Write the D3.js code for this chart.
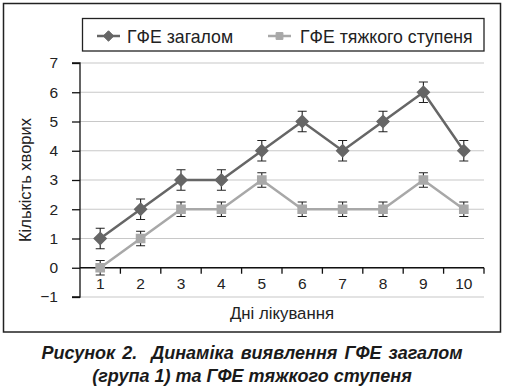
<!DOCTYPE html>
<html><head><meta charset="utf-8">
<script src="https://cdn.jsdelivr.net/npm/d3@7"></script>
<style>body{margin:0;background:#fff}svg{display:block}</style>
</head><body>
<script>
const days = ["1","2","3","4","5","6","7","8","9","10"];
const totalValues = [1,2,3,3,4,5,4,5,6,4];
const totalErrors = [0.35,0.35,0.35,0.35,0.35,0.35,0.35,0.35,0.35,0.35];
const severeValues = [0,1,2,2,3,2,2,2,3,2];
const severeErrors = [0.25,0.25,0.25,0.25,0.25,0.25,0.25,0.25,0.25,0.25];
const yTicks = [-1,0,1,2,3,4,5,6,7];
const seriesNames = ["ГФЕ загалом","ГФЕ тяжкого ступеня"];
const yTitle = "Кількість хворих";
const xTitle = "Дні лікування";
const caption = ["Рисунок 2.  Динаміка виявлення ГФЕ загалом","(група 1) та ГФЕ тяжкого ступеня"];

(function(){
const W=505,H=386;
const svg=d3.select("body").append("svg").attr("width",W).attr("height",H);
const font="'Liberation Sans', Arial, sans-serif";
const pL=80,pR=484,pT=63,pB=297;
const x=d3.scaleBand().domain(days).range([pL,pR]);
const y=d3.scaleLinear().domain([-1,7]).range([pB,pT]);

// frame
svg.append("rect").attr("x",3.5).attr("y",3.5).attr("width",497).attr("height",328.5)
  .attr("fill","none").attr("stroke","#222").attr("stroke-width",1.5);

// gridlines
svg.append("g").selectAll("line").data(yTicks).join("line")
  .attr("x1",pL).attr("x2",pR).attr("y1",d=>y(d)).attr("y2",d=>y(d))
  .attr("stroke","#c8c8c8").attr("stroke-width",1.2);

// y axis
const ya=svg.append("g").attr("transform",`translate(${pL},0)`)
  .call(d3.axisLeft(y).tickValues(yTicks).tickSize(8).tickPadding(14).tickFormat(d=>d<0?"\u2212"+Math.abs(d):d));
ya.select(".domain").attr("stroke","#111").attr("stroke-width",1.3).attr("d",`M-8,${y(-1)}H0V${y(7)}H-8`);
ya.selectAll(".tick line").attr("stroke","#111").attr("stroke-width",1.3);
ya.selectAll("text").attr("font-family",font).attr("font-size",15.5).attr("fill","#222");

// x axis at y=0
const xa=svg.append("g").attr("transform",`translate(0,${y(0)})`)
  .call(d3.axisBottom(x).tickSize(0).tickPadding(10));
xa.select(".domain").attr("stroke","#111").attr("stroke-width",1.3).attr("d",`M${pL},0H${pR}`);
xa.selectAll("text").attr("font-family",font).attr("font-size",15.5).attr("fill","#222");
// boundary ticks
svg.append("g").selectAll("line").data(days).join("line")
  .attr("x1",d=>x(d)+x.bandwidth()).attr("x2",d=>x(d)+x.bandwidth())
  .attr("y1",y(0)).attr("y2",y(0)+6).attr("stroke","#111").attr("stroke-width",1.3);

const cx=d=>x(d)+x.bandwidth()/2;

function drawSeries(vals,errs,color,shape){
  const g=svg.append("g");
  const line=d3.line().x((d,i)=>cx(days[i])).y(d=>y(d));
  g.append("path").attr("d",line(vals)).attr("fill","none").attr("stroke",color).attr("stroke-width",2.5);
  vals.forEach((v,i)=>{
    const px=cx(days[i]);
    const y1=y(v+errs[i]),y2=y(v-errs[i]);
    g.append("path").attr("d",`M${px},${y1}V${y2}M${px-4.5},${y1}H${px+4.5}M${px-4.5},${y2}H${px+4.5}`)
      .attr("stroke","#222").attr("stroke-width",1.1).attr("fill","none");
  });
  g.selectAll("path.m").data(vals).join("path").attr("class","m")
    .attr("d",d3.symbol().type(shape==="d"?d3.symbolDiamond2:d3.symbolSquare2).size(shape==="d"?90:85))
    .attr("transform",(d,i)=>`translate(${cx(days[i])},${y(d)})`)
    .attr("fill",color).attr("stroke",color).attr("stroke-width",1.5);
  return g;
}
drawSeries(totalValues,totalErrors,"#666","d");
drawSeries(severeValues,severeErrors,"#a8a8a8","s");

// legend
svg.append("rect").attr("x",82.5).attr("y",18.5).attr("width",401.5).attr("height",32.5)
  .attr("fill","#fff").attr("stroke","#222").attr("stroke-width",1.3);
const lg=[{x:97,c:"#666",s:"d",tx:127},{x:268,c:"#a8a8a8",s:"s",tx:300}];
lg.forEach((l,i)=>{
  svg.append("line").attr("x1",l.x).attr("x2",l.x+23).attr("y1",36).attr("y2",36).attr("stroke",l.c).attr("stroke-width",2.5);
  svg.append("path").attr("d",d3.symbol().type(l.s==="d"?d3.symbolDiamond2:d3.symbolSquare2).size(l.s==="d"?70:60))
    .attr("transform",`translate(${l.x+11.5},36)`).attr("fill",l.c).attr("stroke",l.c);
  svg.append("text").attr("x",l.tx).attr("y",42.5).text(seriesNames[i])
    .attr("font-family",font).attr("font-size",17.7).attr("fill","#222");
});

// titles
svg.append("text").attr("transform","translate(31,180) rotate(-90)").attr("text-anchor","middle")
  .attr("font-family",font).attr("font-size",16.5).attr("fill","#222").text(yTitle);
svg.append("text").attr("x",282).attr("y",319).attr("text-anchor","middle")
  .attr("font-family",font).attr("font-size",16.8).attr("fill","#222").text(xTitle);

// caption
caption.forEach((c,i)=>{
  svg.append("text").attr("x",252).attr("y",359+i*23).attr("text-anchor","middle")
    .attr("font-family",font).attr("font-size",18).attr("font-weight","bold").attr("font-style","italic")
    .attr("word-spacing",i===0?2:0)
    .attr("fill","#1a1a1a").style("white-space","pre").text(c);
});
})();
</script>
</body></html>
